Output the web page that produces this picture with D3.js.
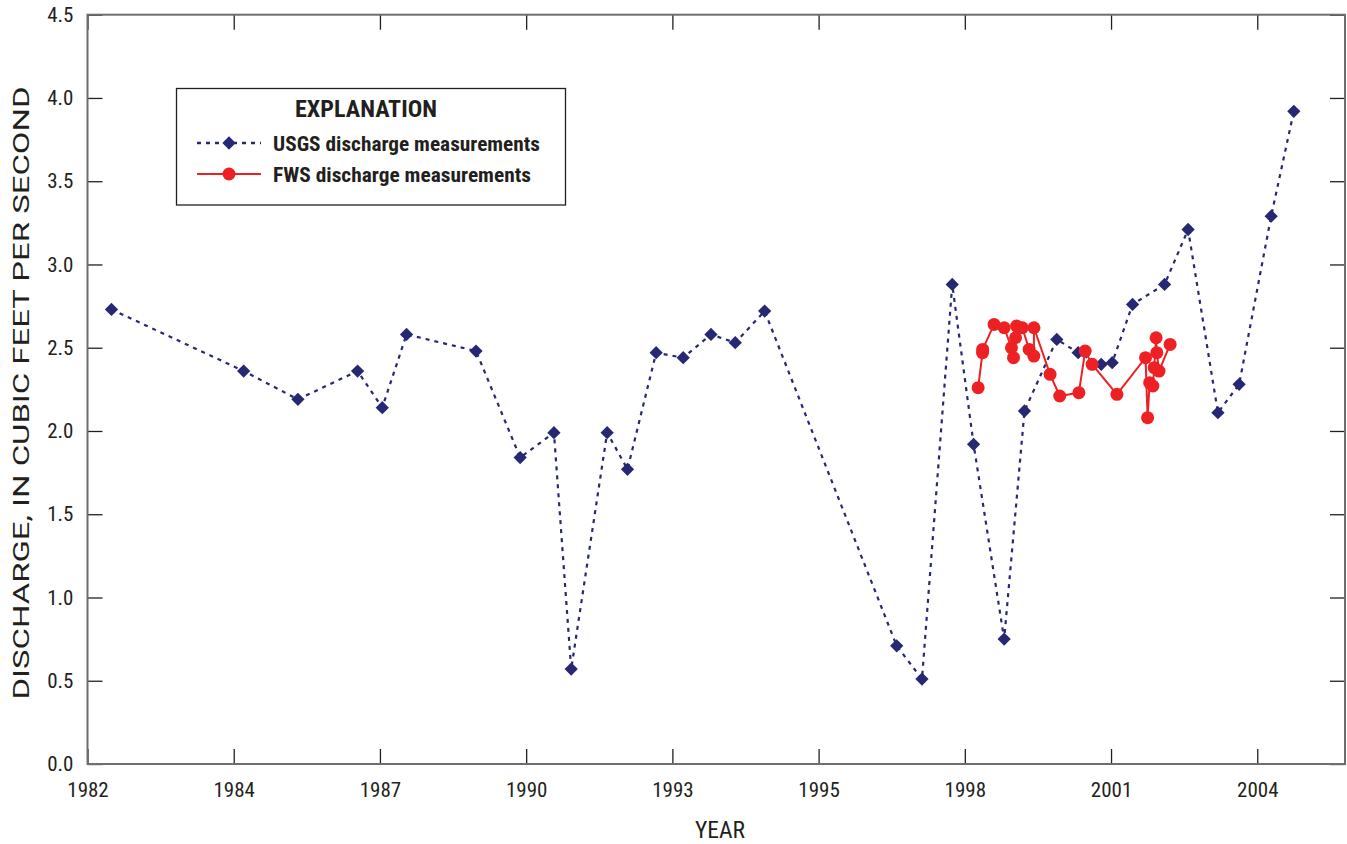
<!DOCTYPE html>
<html>
<head>
<meta charset="utf-8">
<script src="https://cdn.jsdelivr.net/npm/d3@7"></script>
<style>
  html, body { margin: 0; padding: 0; background: #fff; }
  svg text { font-family: "Liberation Sans Narrow", "Roboto Condensed", "DejaVu Sans Condensed", "Liberation Sans", sans-serif; font-stretch: condensed; fill: #231f20; }
  svg text.wide { font-family: Roboto, "Liberation Sans", sans-serif; font-stretch: normal; }
</style>
</head>
<body>
<svg id="chart" width="1347" height="844"></svg>
<script>
// USGS discharge measurements (date, cubic feet per second)
const usgsDates = ["1982-08-01","1985-01-21","1986-01-27","1987-03-11","1987-08-27","1988-02-09","1989-05-29",
  "1990-03-27","1990-11-13","1991-03-11","1991-11-12","1992-03-30","1992-10-12","1993-04-15","1993-10-22",
  "1994-04-06","1994-10-24","1997-04-14","1997-10-04","1998-04-29","1998-09-22","1999-04-19","1999-09-05",
  "2000-04-13","2000-09-06","2001-02-11","2001-04-27","2001-09-13","2002-04-20","2002-09-28","2003-04-20",
  "2003-09-12","2004-04-18","2004-09-20"];
const usgsValues = [2.73,2.36,2.19,2.36,2.14,2.58,2.48,
  1.84,1.99,0.57,1.99,1.77,2.47,2.44,2.58,
  2.53,2.72,0.71,0.51,2.88,1.92,0.75,2.12,
  2.55,2.47,2.40,2.41,2.76,2.88,3.21,2.11,
  2.28,3.29,3.92];

// FWS discharge measurements
const fwsDates = ["1998-10-23","1998-11-22","1998-11-23","1999-02-09","1999-04-19","1999-06-08","1999-06-22",
  "1999-07-06","1999-07-13","1999-08-21","1999-10-07","1999-11-08","1999-11-09","2000-02-27","2000-05-03",
  "2000-09-11","2000-10-24","2000-12-11","2001-05-29","2001-12-11","2001-12-25","2002-01-08","2002-01-30",
  "2002-02-08","2002-02-21","2002-02-26","2002-03-13","2002-05-28"];
const fwsValues = [2.26,2.47,2.49,2.64,2.62,2.50,2.44,
  2.56,2.63,2.62,2.49,2.45,2.62,2.34,2.21,
  2.23,2.48,2.40,2.22,2.44,2.08,2.29,2.27,
  2.38,2.56,2.47,2.36,2.52];

// Axis settings: date axis starts 1982-02-18 with a major unit of 1000 days
const axisStart = "1982-02-18";
const axisSpanDays = 8600;
const tickStepDays = 1000;
const tickCount = 9;
const yTicks = [0, 0.5, 1.0, 1.5, 2.0, 2.5, 3.0, 3.5, 4.0, 4.5];

const seriesNames = ["USGS discharge measurements", "FWS discharge measurements"];
const legendTitle = "EXPLANATION";
const xTitle = "YEAR";
const yTitle = "DISCHARGE, IN CUBIC FEET PER SECOND";

const navy = "#262873";
const red = "#ed2024";

const parse = d3.utcParse("%Y-%m-%d");
const start = parse(axisStart);
const end = d3.utcDay.offset(start, axisSpanDays);
const xTickVals = d3.range(tickCount).map(i => d3.utcDay.offset(start, i * tickStepDays));

const m = { left: 87.5, top: 14.7, right: 1345, bottom: 764 };
const x = d3.scaleUtc().domain([start, end]).range([m.left, m.right]);
const y = d3.scaleLinear().domain([0, 4.5]).range([m.bottom, m.top]);

const svg = d3.select("#chart");

const usgs = usgsDates.map((d, i) => ({ date: parse(d), v: usgsValues[i] }));
const fws = fwsDates.map((d, i) => ({ date: parse(d), v: fwsValues[i] }));

// axes (ticks point inward, mirrored on top and right)
const tickLen = 15;
const fmtYear = d3.utcFormat("%Y");

const gx = svg.append("g").attr("transform", `translate(0,${m.bottom})`)
  .call(d3.axisBottom(x).tickValues(xTickVals).tickFormat(fmtYear).tickSize(-tickLen).tickPadding(18));
const gxTop = svg.append("g").attr("transform", `translate(0,${m.top})`)
  .call(d3.axisTop(x).tickValues(xTickVals).tickFormat("").tickSize(-tickLen));
const gy = svg.append("g").attr("transform", `translate(${m.left},0)`)
  .call(d3.axisLeft(y).tickValues(yTicks).tickFormat(d3.format(".1f")).tickSize(-tickLen).tickPadding(14));
const gyRight = svg.append("g").attr("transform", `translate(${m.right},0)`)
  .call(d3.axisRight(y).tickValues(yTicks).tickFormat("").tickSize(-tickLen));

[gx, gxTop, gy, gyRight].forEach(g => {
  g.select(".domain").remove();
  g.selectAll(".tick line").attr("stroke", "#231f20").attr("stroke-width", 1.3);
  g.selectAll(".tick text").attr("font-size", 21).attr("fill", "#231f20");
});

// plot frame
svg.append("rect")
  .attr("x", m.left).attr("y", m.top)
  .attr("width", m.right - m.left).attr("height", m.bottom - m.top)
  .attr("fill", "none").attr("stroke", "#6d6e71").attr("stroke-width", 2);

// axis titles
svg.append("text")
  .attr("x", 720).attr("y", 838)
  .attr("text-anchor", "middle").attr("font-size", 23)
  .attr("textLength", 50).attr("lengthAdjust", "spacingAndGlyphs").text(xTitle);
svg.append("text").attr("class", "wide")
  .attr("transform", `translate(29,393) rotate(-90)`)
  .attr("text-anchor", "middle").attr("font-size", 22)
  .attr("textLength", 613).attr("lengthAdjust", "spacingAndGlyphs").text(yTitle);

// USGS series: dashed line with diamonds
const line = d3.line().x(d => x(d.date)).y(d => y(d.v));
svg.append("path").datum(usgs)
  .attr("d", line).attr("fill", "none")
  .attr("stroke", navy).attr("stroke-width", 2.2).attr("stroke-dasharray", "4,5");

const diamondPath = d3.symbol().type(d3.symbolSquare).size(88);
svg.append("g").selectAll("path").data(usgs).join("path")
  .attr("d", diamondPath)
  .attr("transform", d => `translate(${x(d.date)},${y(d.v)}) rotate(45)`)
  .attr("fill", navy);

// FWS series: solid red line with circles
svg.append("path").datum(fws)
  .attr("d", line).attr("fill", "none")
  .attr("stroke", red).attr("stroke-width", 2);
svg.append("g").selectAll("circle").data(fws).join("circle")
  .attr("cx", d => x(d.date)).attr("cy", d => y(d.v)).attr("r", 6.5)
  .attr("fill", red);

// legend
const lg = svg.append("g");
lg.append("rect").attr("x", 176.5).attr("y", 88.5).attr("width", 389).attr("height", 116.5)
  .attr("fill", "#fff").attr("stroke", "#231f20").attr("stroke-width", 1.3);
lg.append("text").attr("x", 366).attr("y", 117).attr("text-anchor", "middle")
  .attr("font-size", 23).attr("font-weight", "bold")
  .attr("textLength", 142).attr("lengthAdjust", "spacingAndGlyphs").text(legendTitle);

const items = [
  { name: seriesNames[0], color: navy, dash: "4,5", mark: "diamond", yy: 143, w: 267 },
  { name: seriesNames[1], color: red, dash: null, mark: "circle", yy: 174, w: 258 }
];
items.forEach(it => {
  lg.append("line").attr("x1", 197).attr("x2", 261).attr("y1", it.yy).attr("y2", it.yy)
    .attr("stroke", it.color).attr("stroke-width", it.dash ? 2.6 : 2)
    .attr("stroke-dasharray", it.dash);
  if (it.mark === "diamond") {
    lg.append("path").attr("d", diamondPath)
      .attr("transform", `translate(229,${it.yy}) rotate(45)`).attr("fill", it.color);
  } else {
    lg.append("circle").attr("cx", 229).attr("cy", it.yy).attr("r", 6.5).attr("fill", it.color);
  }
  lg.append("text").attr("x", 273).attr("y", it.yy + 8).attr("font-size", 21)
    .attr("font-weight", "bold")
    .attr("textLength", it.w).attr("lengthAdjust", "spacingAndGlyphs").text(it.name);
});
</script>
</body>
</html>
